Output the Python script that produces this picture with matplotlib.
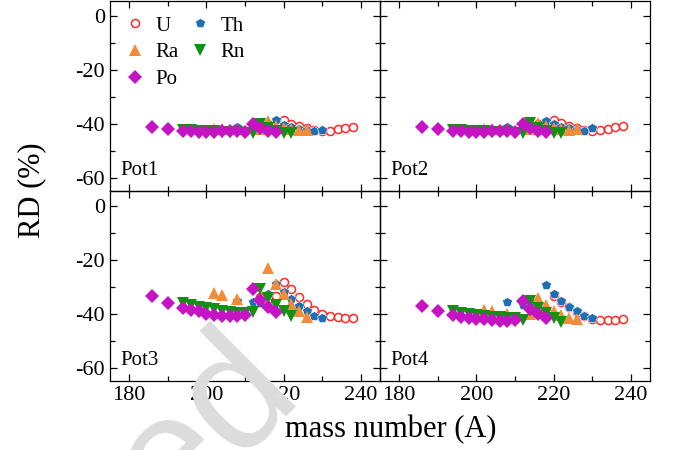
import matplotlib
matplotlib.use("Agg")
import matplotlib.pyplot as plt
from matplotlib.ticker import MultipleLocator

plt.rcParams['font.family'] = ['Liberation Serif', 'DejaVu Serif']
plt.rcParams['axes.unicode_minus'] = False

# mass numbers of each chain
A_U = [214, 216, 218, 220, 222, 224, 226, 228, 230, 232, 234, 236, 238]
A_Th = [208, 212, 214, 216, 218, 220, 222, 224, 226, 228, 230]
A_Ra = [202, 204, 208, 214, 216, 218, 220, 222, 224, 226]
A_Rn = [194, 196, 198, 200, 202, 204, 206, 208, 210, 212, 214, 216, 218, 220, 222]
A_Po = [186, 190, 194, 196, 198, 200, 202, 204, 206, 208, 210, 212, 214, 216, 218]
A_U4 = [220, 222, 224, 226, 228, 230, 232, 234, 236, 238]

# RD (%) per potential
pot1_U = [-41.5, -40.2, -39.6, -38.6, -39.9, -40.9, -41.7, -42.4, -42.7, -42.5, -42.0, -41.6, -41.1]
pot1_Th = [-41.2, -42.0, -41.5, -40.5, -38.6, -40.3, -41.2, -41.8, -42.3, -42.6, -42.2]
pot1_Ra = [-41.8, -41.8, -41.9, -42.0, -39.0, -40.6, -41.4, -42.0, -42.4, -42.3]
pot1_Rn = [-42.2, -42.4, -42.6, -42.7, -42.8, -42.9, -43.0, -43.1, -43.2, -43.4, -39.9, -41.5, -42.6, -43.4, -43.4]
pot1_Po = [-41.2, -41.8, -42.7, -42.8, -42.9, -42.9, -42.9, -42.8, -42.8, -42.7, -42.9, -40.1, -41.6, -42.8, -43.0]

pot2_U = [-41.3, -40.0, -39.4, -38.4, -39.6, -40.7, -41.5, -42.2, -42.5, -42.2, -41.8, -41.3, -40.8]
pot2_Th = [-41.3, -42.0, -41.6, -40.6, -39.1, -40.2, -41.1, -41.7, -42.2, -42.5, -41.6]
pot2_Ra = [-41.8, -41.8, -41.9, -42.0, -39.5, -40.8, -41.5, -42.0, -42.2, -42.0]
pot2_Rn = [-42.2, -42.4, -42.6, -42.7, -42.8, -42.9, -43.0, -43.1, -43.2, -43.4, -39.6, -41.5, -42.6, -43.4, -43.4]
pot2_Po = [-41.2, -41.8, -42.7, -42.8, -42.9, -42.9, -42.9, -42.8, -42.8, -42.7, -42.9, -40.1, -41.6, -42.8, -43.0]

pot3_U = [-33.7, -34.5, -33.3, -28.1, -30.9, -33.7, -36.2, -38.5, -40.0, -40.7, -41.3, -41.4, -41.4]
pot3_Th = [-35.3, -35.6, -36.0, -32.5, -29.0, -31.9, -34.6, -37.0, -39.1, -40.7, -41.4]
pot3_Ra = [-32.1, -33.1, -34.6, -33.8, -23.1, -28.8, -32.7, -36.4, -39.1, -41.1]
pot3_Rn = [-36.0, -36.8, -37.3, -37.9, -38.4, -38.9, -39.4, -39.6, -39.7, -39.5, -30.9, -34.2, -36.9, -38.9, -40.7]
pot3_Po = [-33.3, -35.9, -37.7, -38.5, -39.1, -39.9, -40.4, -40.7, -40.9, -40.9, -40.6, -30.9, -34.7, -37.5, -39.4]

pot4_U = [-33.3, -35.5, -37.6, -39.3, -40.9, -42.1, -42.2, -42.3, -42.2, -42.0]
pot4_Th = [-35.6, -36.6, -35.8, -36.2, -29.4, -32.5, -35.2, -37.4, -39.1, -40.7, -41.7]
pot4_Ra = [-38.5, -39.1, -40.2, -40.0, -34.0, -36.8, -38.9, -40.5, -41.7, -42.0]
pot4_Rn = [-39.0, -39.6, -40.0, -40.4, -40.7, -41.0, -41.2, -41.4, -41.6, -42.2, -35.3, -38.0, -39.8, -41.4, -42.9]
pot4_Po = [-37.0, -38.9, -40.4, -41.0, -41.4, -41.8, -42.1, -42.3, -42.5, -42.5, -42.3, -35.2, -38.1, -40.2, -41.5]

panels = [
    ("Pot1", A_U, pot1_U, pot1_Th, pot1_Ra, pot1_Rn, pot1_Po),
    ("Pot2", A_U, pot2_U, pot2_Th, pot2_Ra, pot2_Rn, pot2_Po),
    ("Pot3", A_U, pot3_U, pot3_Th, pot3_Ra, pot3_Rn, pot3_Po),
    ("Pot4", A_U4, pot4_U, pot4_Th, pot4_Ra, pot4_Rn, pot4_Po),
]

fig, axes = plt.subplots(2, 2, figsize=(6.81, 4.5), dpi=100, sharex=True, sharey=True)
fig.subplots_adjust(left=0.1615, right=0.9545, top=0.997, bottom=0.153, hspace=0, wspace=0)

for ax, (name, aU, u, th, ra, rn, po) in zip(axes.flat, panels):
    ax.patch.set_alpha(0)
    hU, = ax.plot(aU, u, ls='none', marker='o', ms=5.8, mfc='white', mec='#ff2a2a', mew=1.1, label='U')
    hTh, = ax.plot(A_Th, th, ls='none', marker='p', ms=7.5, color='#1f6fb2', mec='white', mew=0.4, label='Th')
    hRa, = ax.plot(A_Ra, ra, ls='none', marker='^', ms=8.5, color='#f28c38', mew=0, label='Ra')
    hRn, = ax.plot(A_Rn, rn, ls='none', marker='v', ms=8.5, color='#119011', mew=0, label='Rn')
    hPo, = ax.plot(A_Po, po, ls='none', marker='D', ms=7, color='#c414c4', mew=0, label='Po')
    ax.text(0.04, 0.06, name, transform=ax.transAxes, fontsize=15, ha='left', va='bottom')
    ax.set_xlim(175, 245)
    ax.set_ylim(-65, 5.5)
    ax.xaxis.set_major_locator(MultipleLocator(20))
    ax.xaxis.set_minor_locator(MultipleLocator(10))
    ax.yaxis.set_major_locator(MultipleLocator(20))
    ax.yaxis.set_minor_locator(MultipleLocator(10))
    ax.tick_params(which='both', direction='in', top=True, right=True, labelsize=16, width=0.9)
    ax.tick_params(which='major', length=5)
    ax.tick_params(which='minor', length=3.5)
    for s in ax.spines.values():
        s.set_linewidth(0.9)

axes[0, 0].legend([hU, hRa, hPo, hTh, hRn], ['U', 'Ra', 'Po', 'Th', 'Rn'],
                  loc='upper left', ncol=2, frameon=False, fontsize=15, numpoints=1,
                  handlelength=1.0, handletextpad=0.5, columnspacing=0.5,
                  labelspacing=0.35, borderaxespad=0.3, borderpad=0.4)

fig.text(0.574, 0.045, 'mass number (A)', ha='center', va='center', fontsize=22)
fig.text(0.047, 0.578, 'RD (%)', ha='center', va='center', rotation=90, fontsize=22)

# faint watermark left on the source page, kept under the plot
fig.text(0.445, 0.127, 'ed', fontsize=120, color='#dcdcdc', family='Liberation Sans',
         rotation=45, rotation_mode='anchor', ha='right', va='baseline', zorder=0.5)

fig.savefig('out.png', dpi=100)
